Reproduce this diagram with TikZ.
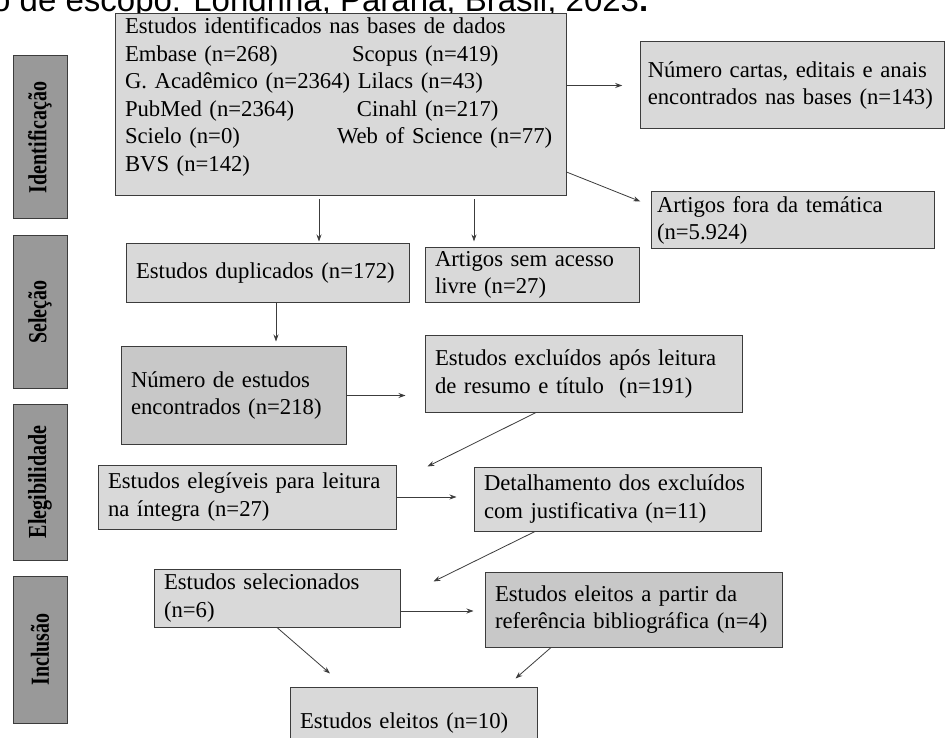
\documentclass[tikz,border=0pt]{standalone}
\usepackage{fontspec}
\usepackage{graphicx}
\setmainfont{Liberation Serif}
\newfontfamily\titulofont{Liberation Sans}
\usetikzlibrary{arrows.meta}

\definecolor{cinzaclaro}{HTML}{D9D9D9}
\definecolor{cinzamedio}{HTML}{C8C8C8}
\definecolor{cinzaetapa}{HTML}{999999}
\definecolor{borda}{HTML}{3C3C3C}

\newcommand{\rotulofase}[1]{\scalebox{1}[1.3]{#1}}

\begin{document}
\begin{tikzpicture}[x=1pt, y=-1pt,
  caixa/.style={draw=borda, line width=1pt, fill=cinzaclaro, align=left, inner xsep=10pt, font=\fontsize{22.7}{27.6}\selectfont},
  etapa/.style={draw=borda, line width=1pt, fill=cinzaetapa, rotate=90, minimum height=54pt, inner sep=0pt, font=\fontsize{20}{24}\selectfont\bfseries},
  seta/.style={draw=borda, line width=0.8pt, -{Stealth[length=7pt, width=5pt]}}]
\useasboundingbox (0, 0) rectangle (946, 738);
\fill[white] (0, 0) rectangle (946, 738);

\node[anchor=base west, inner sep=0pt, font=\titulofont\fontsize{33}{40}\selectfont] (titulo) at (-8, 12) {o de escopo. Londrina, Paraná, Brasil, 2023\textbf{.}};

% fases
\node[etapa, minimum width=163pt] (identificacao) at (40, 137.5) {\rotulofase{Identificação}};
\node[etapa, minimum width=152pt] (selecao) at (40, 312) {\rotulofase{Seleção}};
\node[etapa, minimum width=156pt] (elegibilidade) at (40, 482) {\rotulofase{Elegibilidade}};
\node[etapa, minimum width=147pt] (inclusao) at (40, 649.5) {\rotulofase{Inclusão}};

% caixas
\node[caixa, text width=431pt, text height=16pt, text depth=159pt, inner ysep=3.5pt] (bases) at (340.5, 105) {Estudos identificados nas bases de dados\\
\makebox[227pt][l]{Embase (n=268)}Scopus (n=419)\\
G. Acadêmico (n=2364) Lilacs (n=43)\\
\makebox[232pt][l]{PubMed (n=2364)}Cinahl (n=217)\\
\makebox[212pt][l]{Scielo (n=0)}Web of Science (n=77)\\
BVS (n=142)};
\node[caixa, text width=290pt, inner xsep=7pt, minimum height=87pt] (cartas) at (792.75, 85.5) {Número cartas, editais e anais\\encontrados nas bases (n=143)};
\node[caixa, text width=271pt, inner xsep=6pt, minimum height=57pt] (fora) at (792.5, 220.5) {Artigos fora da temática\\(n=5.924)};
\node[caixa, text width=263pt, minimum height=59pt] (duplicados) at (267.5, 273.5) {Estudos duplicados (n=172)};
\node[caixa, text width=194pt, minimum height=54pt] (semacesso) at (532, 275) {Artigos sem acesso\\livre (n=27)};
\node[caixa, fill=cinzamedio, text width=205pt, minimum height=97pt] (encontrados) at (233.5, 395.5) {Número de estudos\\encontrados (n=218)};
\node[caixa, text width=297pt, minimum height=76pt] (excluidos) at (583.5, 374) {Estudos excluídos após leitura\\de resumo e título \ (n=191)};
\node[caixa, text width=278pt, minimum height=64pt] (elegiveis) at (247, 497) {Estudos elegíveis para leitura\\na íntegra (n=27)};
\node[caixa, text width=267pt, minimum height=64pt] (detalhamento) at (617.5, 499) {Detalhamento dos excluídos\\com justificativa (n=11)};
\node[caixa, text width=226pt, minimum height=58pt] (selecionados) at (277, 598) {Estudos selecionados\\(n=6)};
\node[caixa, fill=cinzamedio, text width=277pt, minimum height=75pt] (referencia) at (633.5, 609.5) {Estudos eleitos a partir da\\referência bibliográfica (n=4)};
\node[caixa, text width=227pt, minimum height=73pt] (eleitos) at (413.5, 723.5) {Estudos eleitos (n=10)};

% setas
\draw[seta, shorten >=18pt] (bases.east |- cartas.west) -- (cartas.west);
\draw[seta, shorten >=11pt] ([yshift=-67pt]bases.east) -- ([yshift=15pt]fora.west);
\draw[seta, shorten <=3pt, shorten >=2pt] ([xshift=-21.5pt]bases.south) -- ([xshift=-21.5pt]bases.south |- duplicados.north);
\draw[seta, shorten <=3pt, shorten >=6pt] ([xshift=133.5pt]bases.south) -- ([xshift=133.5pt]bases.south |- semacesso.north);
\draw[seta, shorten >=5pt] ([xshift=8.5pt]duplicados.south) -- ([xshift=8.5pt]duplicados.south |- encontrados.north);
\draw[seta, shorten >=19pt] (encontrados.east) -- (encontrados.east -| excluidos.west);
\draw[seta] ([xshift=-47.5pt]excluidos.south) -- ([xshift=31pt, yshift=-2pt]elegiveis.north east);
\draw[seta, shorten >=17pt] (elegiveis.east) -- (elegiveis.east -| detalhamento.west);
\draw[seta] ([xshift=-82.5pt]detalhamento.south) -- ([xshift=33pt, yshift=-13pt]selecionados.north east);
\draw[seta, shorten >=11pt] ([yshift=-13pt]selecionados.east) -- ([yshift=-13pt]selecionados.east -| referencia.west);
\draw[seta] (selecionados.south) -- ([xshift=-83.5pt, yshift=13pt]eleitos.north);
\draw[seta] ([xshift=-82.5pt]referencia.south) -- ([xshift=-22pt, yshift=8pt]eleitos.north east);
\end{tikzpicture}
\end{document}
